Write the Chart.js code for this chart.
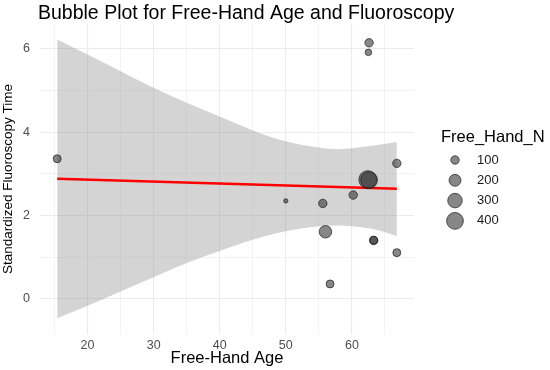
<!DOCTYPE html>
<html>
<head>
<meta charset="utf-8">
<script src="https://cdn.jsdelivr.net/npm/chart.js@4/dist/chart.umd.min.js"></script>
<style>
  html, body { margin: 0; padding: 0; background: #fff; }
  #wrap { width: 550px; height: 370px; position: relative; }
</style>
</head>
<body>
<div id="wrap"><canvas id="chart"></canvas></div>
<script>
// bubbles: Free-Hand age, standardized fluoroscopy time, sample size
const pointAge  = [15.4, 50.0, 55.6, 56.0, 56.7, 60.2, 62.4, 62.6, 62.6, 62.5, 63.3, 63.3, 66.8, 66.8];
const pointTime = [3.36, 2.35, 2.29, 1.61, 0.36, 2.49, 2.86, 2.85, 6.14, 5.91, 1.40, 1.41, 3.25, 1.11];
const pointN    = [90,   25,   100,  220,  90,   100,  450,  400,  100,  60,   100,  90,   100,  90];

// linear fit and its confidence band
const fitAge  = [15.4, 66.8];
const fitTime = [2.88, 2.64];
const bandAge   = [15.4, 20, 25, 30, 35, 40, 45, 50, 55, 58, 60, 63, 66.8];
const bandUpper = [6.22, 5.86, 5.46, 5.06, 4.70, 4.37, 4.04, 3.78, 3.63, 3.59, 3.61, 3.67, 3.76];
const bandLower = [-0.46, -0.16, 0.18, 0.52, 0.86, 1.15, 1.42, 1.62, 1.74, 1.76, 1.74, 1.68, 1.51];

// axes
const xGrid = [15, 20, 25, 30, 35, 40, 45, 50, 55, 60, 65];
const xLabels = [20, 30, 40, 50, 60];
const yGrid = [0, 1, 2, 3, 4, 5, 6];
const yLabels = [0, 2, 4, 6];
const legendN = [100, 200, 300, 400];

const FONT = '"Liberation Sans", Arial, sans-serif';
const bubbleFill = 'rgba(55,55,55,0.6)';
const bubbleEdge = 'rgba(30,30,30,0.7)';

function sizeRadius(n) {
  return 0.42 * Math.sqrt(n);
}

const titleAndLegend = {
  id: 'titleAndLegend',
  afterDraw(chart) {
    const ctx = chart.ctx;
    ctx.save();
    ctx.textBaseline = 'middle';
    ctx.fillStyle = '#000';
    ctx.font = '19.5px ' + FONT;
    ctx.fillText('Bubble Plot for Free-Hand Age and Fluoroscopy', 38, 14);

    ctx.font = '16.5px ' + FONT;
    ctx.fillText('Free_Hand_N', 441, 137);
    ctx.font = '13px ' + FONT;
    legendN.forEach((n, i) => {
      const y = 160 + i * 20.3;
      ctx.beginPath();
      ctx.arc(455, y, sizeRadius(n), 0, Math.PI * 2);
      ctx.fillStyle = bubbleFill;
      ctx.fill();
      ctx.strokeStyle = bubbleEdge;
      ctx.lineWidth = 1;
      ctx.stroke();
      ctx.fillStyle = '#1a1a1a';
      ctx.fillText(String(n), 477, y);
    });
    ctx.restore();
  }
};

new Chart(document.getElementById('chart'), {
  type: 'bubble',
  data: {
    datasets: [
      {
        label: 'Free_Hand_N',
        data: pointAge.map((a, i) => ({ x: a, y: pointTime[i], r: sizeRadius(pointN[i]) })),
        backgroundColor: bubbleFill,
        borderColor: bubbleEdge,
        borderWidth: 1
      },
      {
        type: 'line',
        label: 'fit',
        data: fitAge.map((a, i) => ({ x: a, y: fitTime[i] })),
        borderColor: '#ff0000',
        borderWidth: 2.5,
        pointRadius: 0,
        fill: false
      },
      {
        type: 'line',
        label: 'upper',
        data: bandAge.map((a, i) => ({ x: a, y: bandUpper[i] })),
        borderWidth: 0,
        borderColor: 'rgba(0,0,0,0)',
        pointRadius: 0,
        cubicInterpolationMode: 'monotone',
        backgroundColor: 'rgba(153,153,153,0.42)',
        fill: '+1'
      },
      {
        type: 'line',
        label: 'lower',
        data: bandAge.map((a, i) => ({ x: a, y: bandLower[i] })),
        borderWidth: 0,
        borderColor: 'rgba(0,0,0,0)',
        pointRadius: 0,
        cubicInterpolationMode: 'monotone',
        fill: false
      }
    ]
  },
  options: {
    responsive: true,
    maintainAspectRatio: false,
    animation: false,
    layout: { padding: { top: 24, right: 136, bottom: 0, left: 0 } },
    scales: {
      x: {
        type: 'linear',
        min: 12.8,
        max: 69.4,
        border: { display: false },
        afterBuildTicks: scale => { scale.ticks = xGrid.map(v => ({ value: v })); },
        afterFit: scale => { scale.height = 36; },
        grid: {
          drawTicks: false,
          color: '#ebebeb',
          lineWidth: ctx => xLabels.includes(ctx.tick.value) ? 1.1 : 0.6
        },
        ticks: {
          padding: 4,
          color: '#4d4d4d',
          font: { family: FONT, size: 12.5 },
          callback: v => xLabels.includes(v) ? String(v) : ''
        },
        title: {
          display: true,
          text: 'Free-Hand Age',
          color: '#000',
          font: { family: FONT, size: 16.5 },
          padding: { top: 0, bottom: 2 }
        }
      },
      y: {
        type: 'linear',
        min: -0.84,
        max: 6.59,
        border: { display: false },
        afterBuildTicks: scale => { scale.ticks = yGrid.map(v => ({ value: v })); },
        afterFit: scale => { scale.width = 40; },
        grid: {
          drawTicks: false,
          color: '#ebebeb',
          lineWidth: ctx => yLabels.includes(ctx.tick.value) ? 1.1 : 0.6
        },
        ticks: {
          padding: 10,
          color: '#4d4d4d',
          font: { family: FONT, size: 12.5 },
          callback: v => yLabels.includes(v) ? String(v) : ''
        },
        title: {
          display: true,
          text: 'Standardized Fluoroscopy Time',
          color: '#000',
          font: { family: FONT, size: 13.5 },
          padding: { top: 0, bottom: 0 }
        }
      }
    },
    plugins: {
      legend: { display: false },
      tooltip: { enabled: false }
    }
  },
  plugins: [titleAndLegend]
});
</script>
</body>
</html>
